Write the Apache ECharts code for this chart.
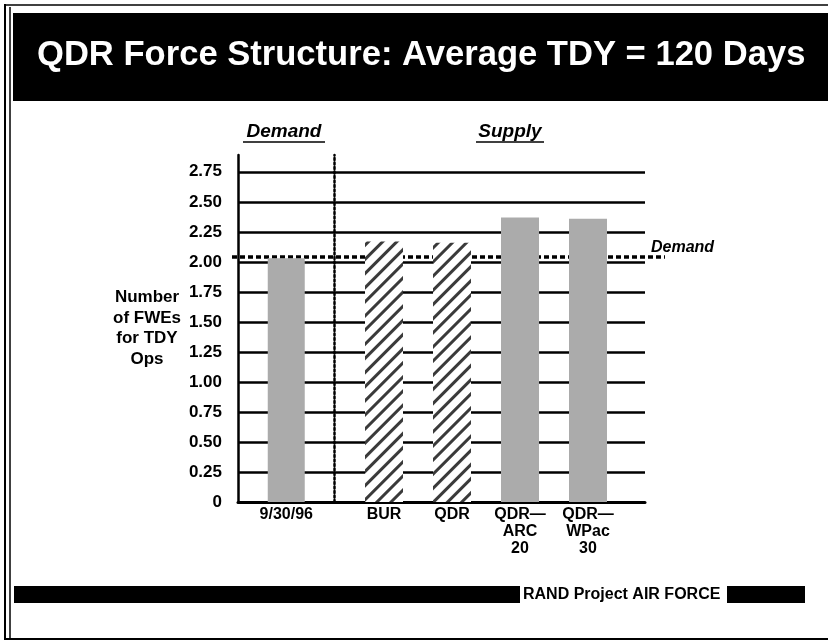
<!DOCTYPE html>
<html>
<head>
<meta charset="utf-8">
<script src="https://cdn.jsdelivr.net/npm/echarts@6/dist/echarts.min.js"></script>
<style>
  html, body { margin: 0; padding: 0; background: #fff; }
  #chart { width: 828px; height: 642px; }
</style>
</head>
<body>
<div id="chart"></div>
<script>
  // values
  const demandCats = ['9/30/96'];
  const demandValues = [2.03];
  const supplyCats = ['BUR', 'QDR', 'QDR—\nARC\n20', 'QDR—\nWPac\n30'];
  const supplyValues = [2.17, 2.16, 2.37, 2.36];
  const hatchedCats = ['BUR', 'QDR'];
  const demandLevel = 2.04;
  const yMin = 0;
  const yMax = 2.89;
  const yStep = 0.25;

  const FONT = '"Liberation Sans", Arial, Helvetica, sans-serif';
  const gray = '#ababab';

  const hatch = {
    symbol: 'rect',
    symbolSize: 1,
    color: '#3a3a3a',
    dashArrayX: [1, 0],
    dashArrayY: [2.5, 7],
    rotation: -Math.PI / 4
  };

  const hiddenY = (gridIndex) => ({
    type: 'value', gridIndex: gridIndex, min: yMin, max: yMax, interval: yStep, show: false
  });

  const catLabel = {
    color: '#000', fontFamily: FONT, fontWeight: 'bold', fontSize: 16,
    lineHeight: 17, margin: 4, interval: 0
  };

  const myChart = echarts.init(document.getElementById('chart'));

  const option = {
    backgroundColor: '#fff',
    animation: false,
    title: {
      text: 'QDR Force Structure: Average TDY = 120 Days',
      left: 37,
      top: 38,
      padding: 0,
      textStyle: { color: '#fff', fontFamily: FONT, fontWeight: 'bold', fontSize: 34.6 }
    },
    graphic: [
      // slide frame
      { type: 'line', shape: { x1: 5, y1: 4, x2: 5, y2: 640 }, style: { stroke: '#000', lineWidth: 2 }, z: -1 },
      { type: 'line', shape: { x1: 10, y1: 7, x2: 10, y2: 640 }, style: { stroke: '#000', lineWidth: 1.5 }, z: -1 },
      { type: 'line', shape: { x1: 5, y1: 5, x2: 828, y2: 5 }, style: { stroke: '#000', lineWidth: 1.5 }, z: -1 },
      { type: 'line', shape: { x1: 5, y1: 639, x2: 828, y2: 639 }, style: { stroke: '#000', lineWidth: 2 }, z: -1 },
      // header band
      { type: 'rect', shape: { x: 13, y: 13, width: 815, height: 88 }, style: { fill: '#000' }, z: -1 },
      // footer
      { type: 'rect', shape: { x: 14, y: 586, width: 506, height: 17 }, style: { fill: '#000' } },
      { type: 'rect', shape: { x: 727, y: 586, width: 78, height: 17 }, style: { fill: '#000' } },
      {
        type: 'text', x: 523, y: 595,
        style: { text: 'RAND Project AIR FORCE', fill: '#000', font: 'bold 16px ' + FONT, verticalAlign: 'middle' }
      },
      // section headings
      {
        type: 'text', x: 284, y: 132,
        style: { text: 'Demand', fill: '#000', font: 'italic bold 19px ' + FONT, align: 'center', verticalAlign: 'middle' }
      },
      { type: 'line', shape: { x1: 243, y1: 142, x2: 325, y2: 142 }, style: { stroke: '#000', lineWidth: 1.5 } },
      {
        type: 'text', x: 510, y: 132,
        style: { text: 'Supply', fill: '#000', font: 'italic bold 19px ' + FONT, align: 'center', verticalAlign: 'middle' }
      },
      { type: 'line', shape: { x1: 476, y1: 142, x2: 544, y2: 142 }, style: { stroke: '#000', lineWidth: 1.5 } }
    ],
    grid: [
      { left: 238, right: 183, top: 155, bottom: 140 },   // axes + gridlines
      { left: 238, right: 493.5, top: 155, bottom: 140 }, // demand bar
      { left: 350, right: 206, top: 155, bottom: 140 },   // supply bars
      { left: 232, right: 163, top: 155, bottom: 140 }    // demand level line
    ],
    xAxis: [
      {
        type: 'value', gridIndex: 0, min: 0, max: 1,
        axisLine: { show: true, lineStyle: { color: '#000', width: 3 } },
        axisTick: { show: false }, axisLabel: { show: false }, splitLine: { show: false }
      },
      {
        type: 'category', gridIndex: 1, data: demandCats,
        axisLine: { show: false }, axisTick: { show: false }, axisLabel: catLabel
      },
      {
        type: 'category', gridIndex: 2, data: supplyCats,
        axisLine: { show: false }, axisTick: { show: false }, axisLabel: catLabel
      },
      { type: 'value', gridIndex: 3, min: 0, max: 1, show: false }
    ],
    yAxis: [
      {
        type: 'value', gridIndex: 0, min: yMin, max: yMax, interval: yStep,
        name: 'Number\nof FWEs\nfor TDY\nOps',
        nameLocation: 'middle',
        nameRotate: 0,
        nameGap: 91,
        nameTextStyle: {
          color: '#000', fontFamily: FONT, fontWeight: 'bold', fontSize: 17,
          lineHeight: 20.5, align: 'center', verticalAlign: 'middle', padding: [0, 0, 13, 0]
        },
        axisLine: { show: true, lineStyle: { color: '#000', width: 2.5 } },
        axisTick: { show: false },
        axisLabel: {
          color: '#000', fontFamily: FONT, fontWeight: 'bold', fontSize: 17, margin: 16,
          showMaxLabel: false,
          formatter: (v) => (v === 0 ? '0' : v.toFixed(2))
        },
        splitLine: { show: true, showMinLine: false, showMaxLine: false, lineStyle: { color: '#000', width: 2.5 } }
      },
      {
        type: 'value', gridIndex: 1, min: yMin, max: yMax, interval: yStep, position: 'right',
        axisLine: { show: true, lineStyle: { color: '#000', width: 2.5, type: [2, 2.5] } },
        axisTick: { show: false }, axisLabel: { show: false }, splitLine: { show: false }
      },
      hiddenY(2),
      hiddenY(3)
    ],
    series: [
      {
        name: 'Demand level',
        type: 'line',
        xAxisIndex: 3, yAxisIndex: 3,
        z: 1,
        symbol: 'none',
        silent: true,
        data: [[0, demandLevel], [1, demandLevel]],
        lineStyle: { color: '#000', width: 3.5, type: [5, 3] },
        endLabel: {
          show: true,
          formatter: 'Demand',
          color: '#000', fontFamily: FONT, fontStyle: 'italic', fontWeight: 'bold', fontSize: 16,
          offset: [-22, -9]
        }
      },
      {
        name: 'Demand',
        type: 'bar',
        xAxisIndex: 1, yAxisIndex: 1,
        barWidth: 37,
        silent: true,
        itemStyle: { color: gray },
        data: demandValues
      },
      {
        name: 'Supply',
        type: 'bar',
        xAxisIndex: 2, yAxisIndex: 2,
        barWidth: 38,
        silent: true,
        data: supplyValues.map((v, i) => {
          const isHatched = hatchedCats.indexOf(supplyCats[i]) >= 0;
          return {
            value: v,
            itemStyle: isHatched ? { color: '#fff', decal: hatch } : { color: gray }
          };
        })
      }
    ]
  };

  myChart.setOption(option);
</script>
</body>
</html>
